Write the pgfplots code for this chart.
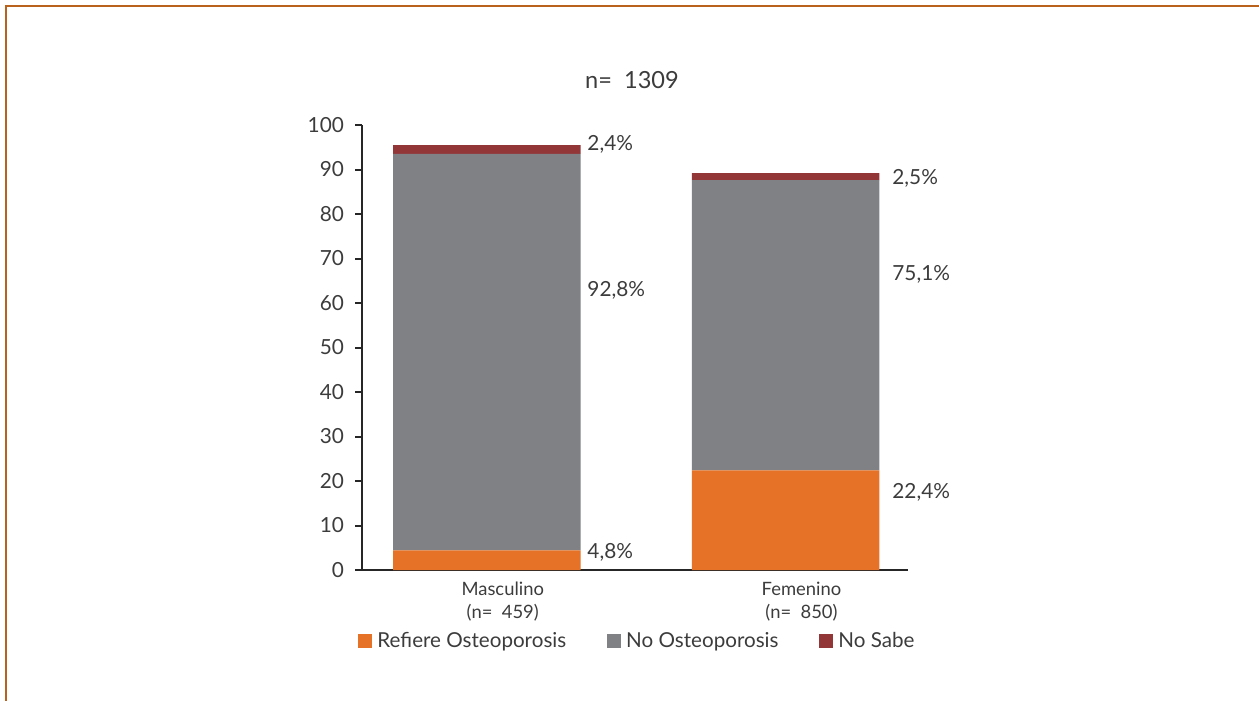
\documentclass[border=0pt]{standalone}
\usepackage{fontspec}
\setmainfont{Lato}
\usepackage{pgfplots}
\pgfplotsset{compat=1.18}
\definecolor{orng}{HTML}{E57226}
\definecolor{gry}{HTML}{808184}
\definecolor{redb}{HTML}{923638}
\definecolor{txt}{HTML}{3C3C3C}
\definecolor{framec}{HTML}{B8621E}
\tikzset{pct/.style={anchor=west, inner sep=0pt, text=txt, font=\fontsize{10.4}{12}\selectfont}}
\begin{document}
\begin{tikzpicture}
\draw[framec, line width=1.15pt] (3pt,-420pt) -- (3pt,-3pt) -- (700pt,-3pt);
\node[text=txt, font=\fontsize{11.8}{14}\selectfont] at (316pt,-40pt) {n=\ \ 1309};
\begin{axis}[
  at={(181pt,-285pt)}, anchor=south west,
  scale only axis, width=273pt, height=222.5pt,
  xmin=-0.4176, xmax=1.41, ymin=0, ymax=100,
  ybar stacked, bar width=93.75pt,
  axis x line=bottom, axis y line=left,
  axis line style={-, line width=1pt, black!85},
  xtick={0,1},
  xticklabels={{Masculino\\[1.1pt](n=\ \ 459)},{Femenino\\[1.1pt](n=\ \ 850)}},
  x tick style={draw=none},
  xticklabel style={align=center, font=\fontsize{9.2}{10.5}\selectfont, xshift=8pt, yshift=1pt, text=txt},
  ytick={0,10,...,100},
  y tick style={line width=1pt, black!85},
  tick align=outside, major tick length=3.5pt,
  yticklabel style={font=\fontsize{10.4}{12}\selectfont, text=txt, xshift=-2pt},
  /pgf/number format/assume math mode=true,
  legend style={at={(-0.0073,-0.1596)}, anchor=west, draw=none, fill=none, inner sep=0pt,
    font=\fontsize{10.3}{12}\selectfont, text=txt, legend columns=3,
    /tikz/every even column/.append style={column sep=18pt},
    nodes={inner xsep=2.5pt}},
  legend image code/.code={\fill[#1] (0pt,-3.5pt) rectangle (7pt,3.5pt);},
  clip=false,
]
\addplot[fill=orng, draw=none] coordinates {(0,4.4) (1,22.4)};
\addplot[fill=gry, draw=none] coordinates {(0,89.1) (1,65.2)};
\addplot[fill=redb, draw=none] coordinates {(0,2.0) (1,1.6)};
\legend{Refiere Osteoporosis, No Osteoporosis, No Sabe}
\node[pct] at (axis cs:0.3358,95.6) {2,4\%};
\node[pct] at (axis cs:0.3358,62.9) {92,8\%};
\node[pct] at (axis cs:0.3358,3.9) {4,8\%};
\node[pct] at (axis cs:1.3565,88.1) {2,5\%};
\node[pct] at (axis cs:1.3565,66.5) {75,1\%};
\node[pct] at (axis cs:1.3565,17.5) {22,4\%};
\end{axis}
\pgfresetboundingbox
\useasboundingbox (0,0) rectangle (629.5pt,-350.5pt);
\end{tikzpicture}
\end{document}
